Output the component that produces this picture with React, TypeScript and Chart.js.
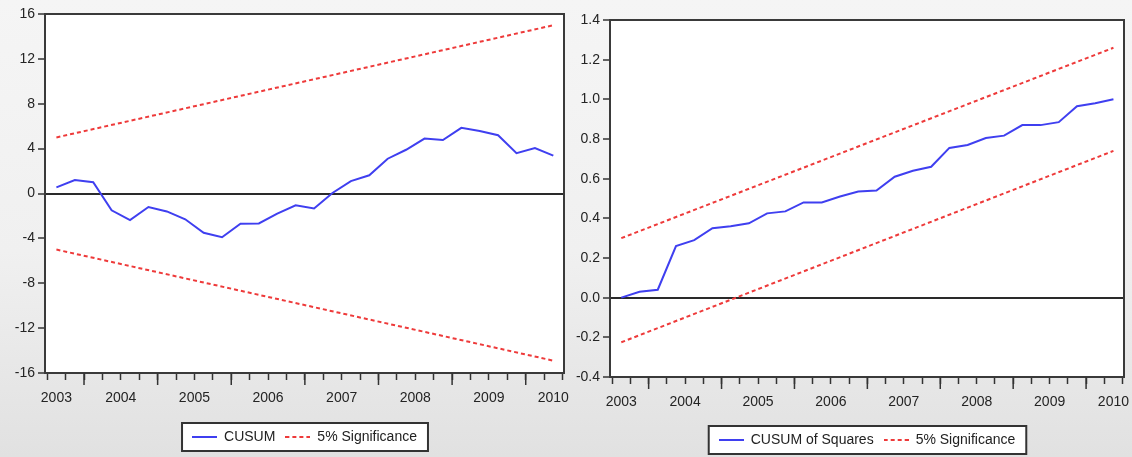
import React, { useEffect, useRef } from 'react';
import { Chart, registerables } from 'chart.js';

Chart.register(...registerables);

// ---- data ----
const periods = [
  '2003Q3', '2003Q4', '2004Q1', '2004Q2', '2004Q3', '2004Q4', '2005Q1', '2005Q2',
  '2005Q3', '2005Q4', '2006Q1', '2006Q2', '2006Q3', '2006Q4', '2007Q1', '2007Q2',
  '2007Q3', '2007Q4', '2008Q1', '2008Q2', '2008Q3', '2008Q4', '2009Q1', '2009Q2',
  '2009Q3', '2009Q4', '2010Q1', '2010Q2',
];
const cusum = [
  0.54, 1.2, 1.0, -1.5, -2.37, -1.2, -1.6, -2.3, -3.5, -3.9, -2.7, -2.67, -1.8, -1.05,
  -1.33, 0.05, 1.1, 1.62, 3.1, 3.9, 4.9, 4.77, 5.85, 5.57, 5.2, 3.6, 4.05, 3.37,
];
const cusumUpper = [5.0, 15.0]; // first and last period
const cusumLower = [-5.0, -14.9];
const cusumSq = [
  0.0, 0.03, 0.04, 0.26, 0.29, 0.35, 0.36, 0.375, 0.425, 0.435, 0.48, 0.48, 0.51, 0.535,
  0.54, 0.61, 0.64, 0.66, 0.755, 0.77, 0.805, 0.817, 0.87, 0.87, 0.885, 0.965, 0.98, 1.0,
];
const sqUpper = [0.3, 1.26];
const sqLower = [-0.225, 0.74];
const yearLabels = ['2003', '2004', '2005', '2006', '2007', '2008', '2009', '2010'];
const cusumTicks = [16, 12, 8, 4, 0, -4, -8, -12, -16];
const sqTicks = [1.4, 1.2, 1.0, 0.8, 0.6, 0.4, 0.2, 0.0, -0.2, -0.4];

// ---- helpers ----
const FONT = "'Liberation Sans', Arial, sans-serif";
const BLUE = '#3f3ff0';
const RED = '#ee3a3a';
const INK = '#242424';
const X_MIN = 2003.47;
const X_MAX = 2010.52;
const DASH = [4, 3];

function periodToX(p: string): number {
  const year = parseInt(p.slice(0, 4), 10);
  const q = parseInt(p.slice(5), 10);
  return year + (q - 1) / 4 + 0.125;
}

const firstX = periodToX(periods[0]);
const lastX = periodToX(periods[periods.length - 1]);

function xLabelFor(v: number): string {
  if (v === firstX) return yearLabels[0];
  if (v === lastX) return yearLabels[yearLabels.length - 1];
  const frac = v - Math.floor(v);
  const y = String(Math.floor(v));
  const idx = yearLabels.indexOf(y);
  if (frac === 0.5 && idx > 0 && idx < yearLabels.length - 1) return y;
  return '';
}

function lineSample(color: string, dash: number[]): HTMLCanvasElement {
  const c = document.createElement('canvas');
  c.width = 25;
  c.height = 4;
  const g = c.getContext('2d') as CanvasRenderingContext2D;
  g.strokeStyle = color;
  g.lineWidth = 2;
  g.setLineDash(dash);
  g.beginPath();
  g.moveTo(0, 2);
  g.lineTo(25, 2);
  g.stroke();
  return c;
}

function legendRect(chart: any) {
  const boxes = chart.legend && chart.legend.legendHitBoxes;
  if (!boxes || !boxes.length) return null;
  let l = Infinity, r = -Infinity;
  for (const b of boxes) {
    l = Math.min(l, b.left);
    r = Math.max(r, b.left + b.width);
  }
  const top = boxes[0].top - 7;
  const bottom = boxes[0].top + boxes[0].height + 7;
  return { x: l - 10, y: top, w: r - l + 21, h: bottom - top };
}

const framePlugin = {
  id: 'evFrame',
  beforeDraw(chart: any) {
    const { ctx, chartArea: a } = chart;
    ctx.save();
    ctx.fillStyle = '#ffffff';
    ctx.fillRect(a.left, a.top, a.right - a.left, a.bottom - a.top);
    const r = legendRect(chart);
    if (r) ctx.fillRect(r.x, r.y, r.w, r.h);
    ctx.restore();
  },
  afterDraw(chart: any) {
    const { ctx, chartArea: a } = chart;
    ctx.save();
    ctx.strokeStyle = '#3a3a3a';
    ctx.lineWidth = 2;
    ctx.strokeRect(a.left, a.top, a.right - a.left, a.bottom - a.top);
    // major (year) ticks
    const xs = chart.scales.x;
    ctx.lineWidth = 1.5;
    ctx.strokeStyle = '#333';
    for (let i = 1; i < yearLabels.length; i++) {
      const px = xs.getPixelForValue(parseInt(yearLabels[i], 10));
      ctx.beginPath();
      ctx.moveTo(px, a.bottom);
      ctx.lineTo(px, a.bottom + 12);
      ctx.stroke();
    }
    const r = legendRect(chart);
    if (r) {
      ctx.lineWidth = 2;
      ctx.strokeStyle = '#333';
      ctx.strokeRect(r.x, r.y, r.w, r.h);
    }
    ctx.restore();
  },
};

function makeConfig(opts: {
  main: number[];
  mainLabel: string;
  upper: number[];
  lower: number[];
  ticks: number[];
  fmt: (v: number) => string;
  padding: any;
  yWidth: number;
  xHeight: number;
}) {
  const mainData = periods.map((p, i) => ({ x: periodToX(p), y: opts.main[i] }));
  const upData = [{ x: firstX, y: opts.upper[0] }, { x: lastX, y: opts.upper[1] }];
  const loData = [{ x: firstX, y: opts.lower[0] }, { x: lastX, y: opts.lower[1] }];
  const yMin = Math.min(...opts.ticks);
  const yMax = Math.max(...opts.ticks);
  const blueSample = lineSample(BLUE, []);
  const redSample = lineSample(RED, DASH);
  return {
    type: 'line',
    data: {
      datasets: [
        {
          label: opts.mainLabel, data: mainData, borderColor: BLUE, backgroundColor: BLUE,
          borderWidth: 2, pointRadius: 0, pointStyle: blueSample, tension: 0,
        },
        {
          label: '5% Significance', data: upData, borderColor: RED, backgroundColor: RED,
          borderWidth: 2, borderDash: DASH, pointRadius: 0, pointStyle: redSample,
        },
        {
          label: '5% Significance (lower)', data: loData, borderColor: RED, backgroundColor: RED,
          borderWidth: 2, borderDash: DASH, pointRadius: 0, pointStyle: redSample,
        },
      ],
    },
    options: {
      animation: false,
      responsive: false,
      events: [],
      layout: { padding: opts.padding },
      scales: {
        x: {
          type: 'linear',
          min: X_MIN,
          max: X_MAX,
          border: { display: false },
          afterBuildTicks: (scale: any) => {
            const vals: number[] = [];
            for (let v = 2003.5; v <= 2010.5; v += 0.25) vals.push(v);
            vals.push(firstX, lastX);
            vals.sort((a, b) => a - b);
            scale.ticks = vals.map((v) => ({ value: v }));
          },
          afterFit: (scale: any) => {
            scale.height = opts.xHeight;
            scale.paddingLeft = 0;
            scale.paddingRight = 0;
          },
          grid: {
            drawOnChartArea: false,
            drawTicks: true,
            tickLength: 7,
            tickWidth: 1.5,
            tickColor: (c: any) => {
              const v = c.tick ? c.tick.value : 0;
              return v === firstX || v === lastX ? 'rgba(0,0,0,0)' : '#333';
            },
          },
          ticks: {
            autoSkip: false,
            maxRotation: 0,
            minRotation: 0,
            padding: 10,
            color: INK,
            font: { family: FONT, size: 14 },
            callback: (v: any) => xLabelFor(Number(v)),
          },
        },
        y: {
          type: 'linear',
          min: yMin,
          max: yMax,
          border: { display: false },
          afterBuildTicks: (scale: any) => {
            scale.ticks = opts.ticks.slice().sort((a, b) => a - b).map((v) => ({ value: v }));
          },
          afterFit: (scale: any) => { scale.width = opts.yWidth; },
          grid: {
            drawOnChartArea: true,
            drawTicks: true,
            tickLength: 7,
            tickWidth: 1.5,
            tickColor: '#333',
            color: (c: any) => (c.tick && Math.abs(c.tick.value) < 1e-9 ? '#2a2a2a' : 'rgba(0,0,0,0)'),
            lineWidth: (c: any) => (c.tick && Math.abs(c.tick.value) < 1e-9 ? 2 : 0),
          },
          ticks: {
            padding: 3,
            color: INK,
            font: { family: FONT, size: 14 },
            callback: (v: any) => opts.fmt(Number(v)),
          },
        },
      },
      plugins: {
        tooltip: { enabled: false },
        legend: {
          display: true,
          position: 'bottom',
          fullSize: false,
          labels: {
            usePointStyle: true,
            pointStyleWidth: 25,
            padding: 10,
            color: '#222',
            font: { family: FONT, size: 14 },
            filter: (item: any) => item.datasetIndex !== 2,
          },
        },
      },
    },
    plugins: [framePlugin],
  };
}

function Panel({ left, width, config }: { left: number; width: number; config: any }) {
  const ref = useRef<HTMLCanvasElement>(null);
  useEffect(() => {
    const chart = new Chart(ref.current as HTMLCanvasElement, config);
    return () => chart.destroy();
  }, []);
  return (
    <canvas
      ref={ref}
      width={width}
      height={457}
      style={{ position: 'absolute', left, top: 0, width, height: 457, display: 'block' }}
    />
  );
}

export default function App() {
  const leftCfg = makeConfig({
    main: cusum,
    mainLabel: 'CUSUM',
    upper: cusumUpper,
    lower: cusumLower,
    ticks: cusumTicks,
    fmt: (v) => String(v),
    padding: { top: 14, right: 16, bottom: 3, left: 0 },
    yWidth: 45,
    xHeight: 47,
  });
  const rightCfg = makeConfig({
    main: cusumSq,
    mainLabel: 'CUSUM of Squares',
    upper: sqUpper,
    lower: sqLower,
    ticks: sqTicks,
    fmt: (v) => v.toFixed(1),
    padding: { top: 20, right: 8, bottom: 0, left: 0 },
    yWidth: 44,
    xHeight: 46,
  });
  return (
    <div
      style={{
        position: 'fixed',
        left: 0,
        top: 0,
        width: 1132,
        height: 457,
        overflow: 'hidden',
        background: 'linear-gradient(to bottom, #f5f5f5 0%, #f0f0f0 55%, #e1e1e1 100%)',
      }}
    >
      <Panel left={0} width={580} config={leftCfg} />
      <Panel left={566} width={566} config={rightCfg} />
    </div>
  );
}
